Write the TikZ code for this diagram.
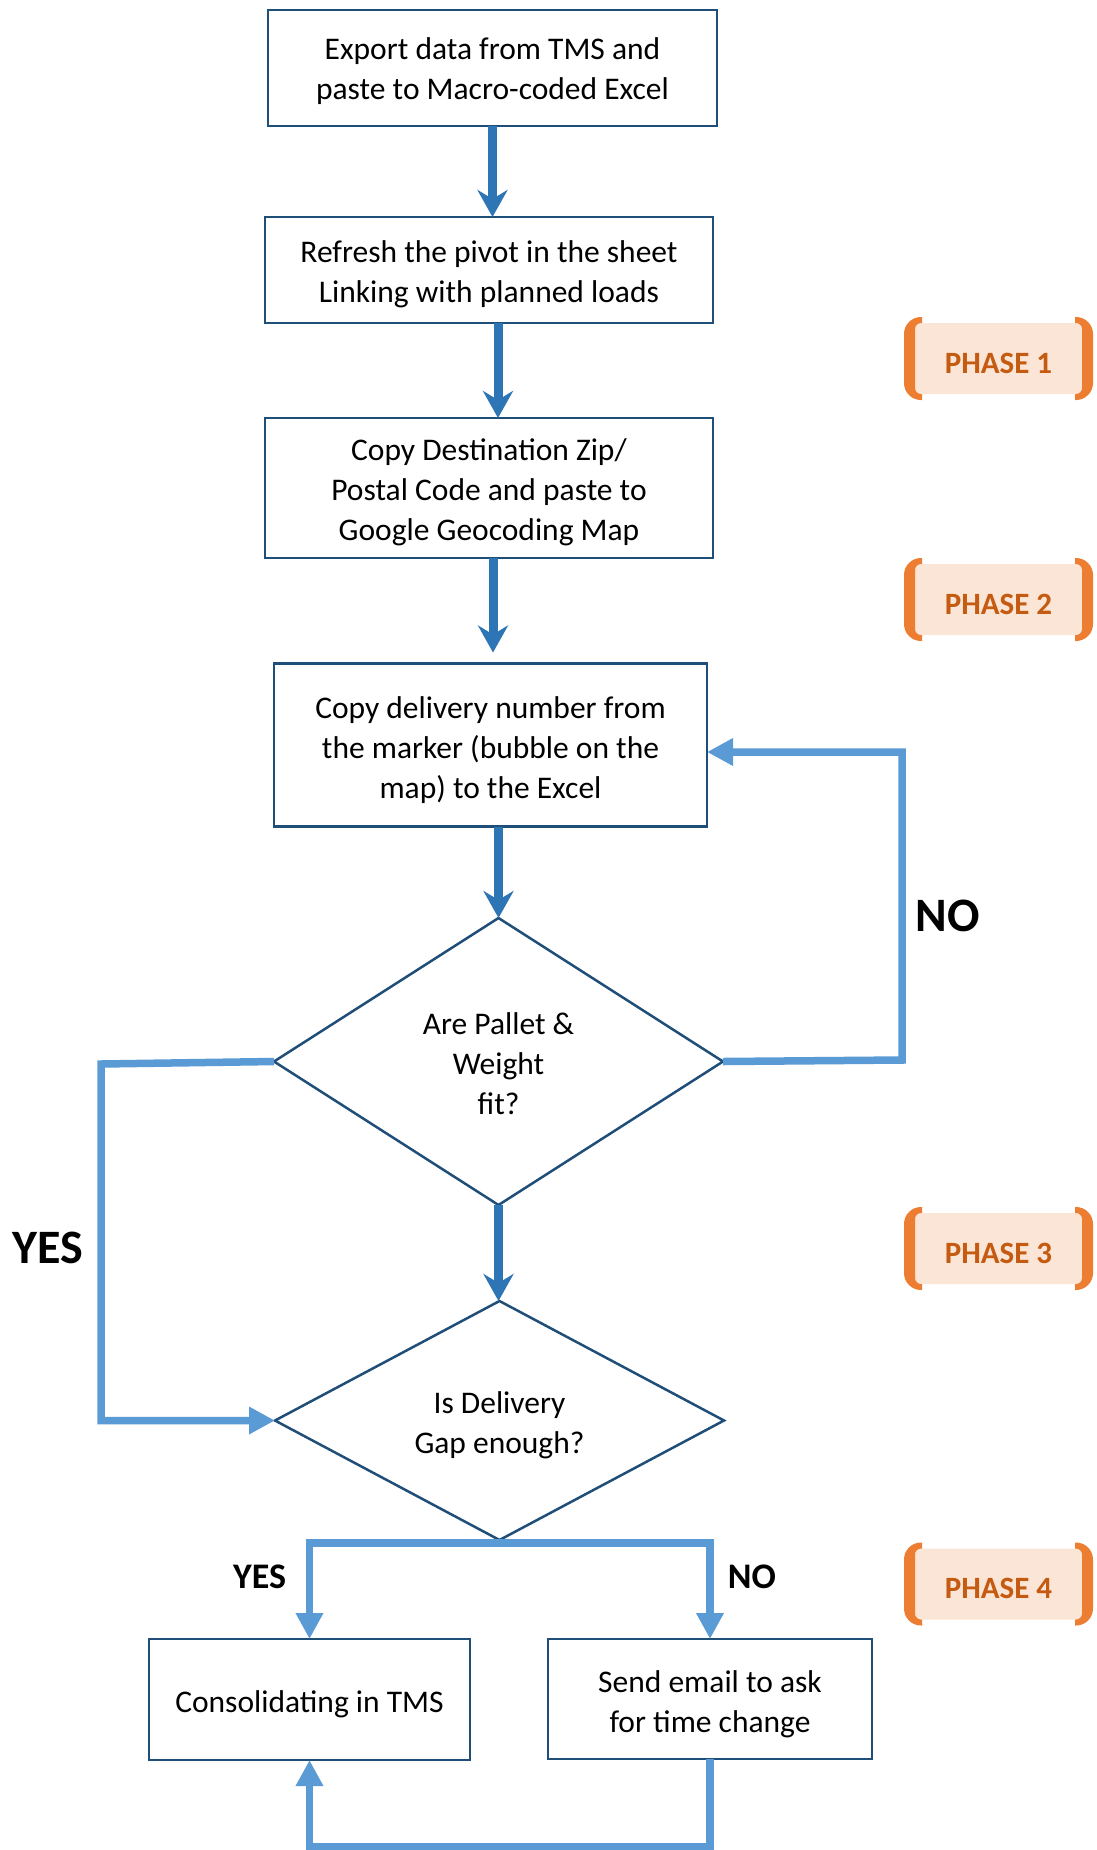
\documentclass[tikz,border=0pt]{standalone}
\usepackage{fontspec}
\setmainfont{Carlito}
\usetikzlibrary{arrows.meta,shapes.geometric,calc}

\definecolor{boxline}{HTML}{1F4E79}
\definecolor{darkflow}{HTML}{2E75B6}
\definecolor{lightflow}{HTML}{5B9BD5}
\definecolor{phasefill}{HTML}{FBE5D6}
\definecolor{phasebrk}{HTML}{ED7D31}
\definecolor{phasetext}{HTML}{C55A11}

% zero-width strut on a first line: lowers the whole text block a little
\newcommand{\firststrut}[1]{\rule{0pt}{#1}}

\tikzset{
  stepbox/.style={draw=boxline, line width=2.8pt, fill=white, align=center,
    inner sep=0pt, outer sep=0pt, font=\fontsize{31.5}{40}\selectfont},
  decision/.style={diamond, draw=boxline, line width=2.5pt, fill=white, align=center,
    inner sep=0pt, outer sep=0pt, font=\fontsize{31.5}{40}\selectfont},
  darkarrow/.style={draw=darkflow, line width=9pt,
    -{Stealth[length=27pt,width=30pt,inset=9pt]}},
  lightarrow/.style={draw=lightflow, line width=7.5pt, line join=miter,
    -{Triangle[length=26pt,width=26pt]}},
  biglabel/.style={font=\bfseries\fontsize{48}{48}\selectfont, anchor=base, inner sep=0pt},
  smalllabel/.style={font=\bfseries\fontsize{36}{36}\selectfont, anchor=base, inner sep=0pt},
  phasebox/.style={fill=phasefill, rounded corners=6pt, minimum width=167pt,
    minimum height=71pt, inner sep=0pt, outer sep=0pt},
  phaselabel/.style={text=phasetext, font=\bfseries\fontsize{31}{31}\selectfont, inner sep=0pt},
}

% bracketed phase tag: name, vertical centre, caption
\newcommand{\phasebadge}[3]{%
  \node[phasebox] (#1) at (998.5,#2) {};
  \begin{scope}
    \clip ([xshift=-14pt,yshift=-9pt]#1.south west) rectangle ([xshift=7pt,yshift=9pt]#1.north west)
          ([xshift=-7pt,yshift=-9pt]#1.south east) rectangle ([xshift=14pt,yshift=9pt]#1.north east);
    \fill[phasebrk, even odd rule]
      [rounded corners=17pt] ([xshift=-11pt,yshift=-6pt]#1.south west) rectangle ([xshift=11pt,yshift=6pt]#1.north east)
      [rounded corners=6pt] (#1.south west) rectangle (#1.north east);
  \end{scope}
  \node[phaselabel] (#1t) at ([yshift=-4.5pt]#1.center) {#3};
}

\begin{document}
\begin{tikzpicture}[x=1pt, y=-1pt]
  \useasboundingbox (0,0) rectangle (1096,1850);
  \fill[white] (0,0) rectangle (1096,1850);

  % process steps
  \node[stepbox, minimum width=449pt, minimum height=116pt] (b1) at (492.5,68)
    {\firststrut{28pt}Export data from TMS and\\paste to Macro-coded Excel};
  \node[stepbox, minimum width=448pt, minimum height=106pt] (b2) at (489,270)
    {\firststrut{30pt}Refresh the pivot in the sheet\\Linking with planned loads};
  \node[stepbox, minimum width=448pt, minimum height=140pt] (b3) at (489,488)
    {\firststrut{30pt}Copy Destination Zip/\\Postal Code and paste to\\Google Geocoding Map};
  \node[stepbox, minimum width=433pt, minimum height=163pt] (b4) at (490.5,745)
    {\firststrut{32pt}Copy delivery number from\\the marker (bubble on the\\map) to the Excel};

  % decisions
  \node[decision, shape aspect=1.56, minimum width=449pt, minimum height=287pt] (d1) at (498.5,1061.5)
    {\firststrut{26pt}Are Pallet \&\\Weight\\fit?};
  \node[decision, shape aspect=1.88, minimum width=449pt, minimum height=239pt] (d2) at (499.5,1420.5)
    {\firststrut{31pt}Is Delivery\\Gap enough?};

  % outcomes
  \node[stepbox, minimum width=321pt, minimum height=121pt] (c) at (309.5,1699.5)
    {\firststrut{32pt}Consolidating in TMS};
  \node[stepbox, minimum width=324pt, minimum height=120pt] (s) at (710,1699)
    {\firststrut{32pt}Send email to ask\\for time change};

  % main flow
  \draw[darkarrow] (b1.south) -- (b1.south |- b2.north);
  \draw[darkarrow] ($(b2.south)+(9,0)$) -- ($(b2.south |- b3.north)+(9,0)$);
  \draw[darkarrow] ($(b3.south)+(4,0)$) -- ($(b3.south |- b4.north)+(4,-11)$);
  \draw[darkarrow] (b4.south -| d1.north) -- (d1.north);
  \draw[darkarrow] (d1.south) -- (d1.south |- d2.north);

  % NO loop back to the delivery step
  \coordinate (noturn) at (902,1060);
  \coordinate (notop) at (902,752);
  \draw[lightarrow] (d1.east) -- (noturn) -- (notop) -- (notop -| b4.east);

  % YES branch to the gap check
  \coordinate (yesturn) at (101,1064);
  \coordinate (yesfoot) at (101,1420.5);
  \draw[lightarrow] (d1.west) -- (yesturn) -- (yesfoot) -- (d2.west);

  % gap check split
  \draw[lightarrow] ([yshift=-3pt]d2.south) -| (c.north);
  \draw[lightarrow] ([yshift=-3pt]d2.south) -| (s.north);

  % email result feeds consolidation
  \coordinate (loopfoot) at (500,1847);
  \draw[lightarrow] (s.south) |- (loopfoot) -| (c.south);

  % branch labels
  \node[biglabel] (noA) at (948,931) {NO};
  \node[biglabel] (yesA) at (47.5,1263) {YES};
  \node[smalllabel] (yesB) at (259.5,1588) {YES};
  \node[smalllabel] (noB) at (752,1588) {NO};

  % phase tags
  \phasebadge{p1}{358.5}{PHASE 1}
  \phasebadge{p2}{599.5}{PHASE 2}
  \phasebadge{p3}{1248.5}{PHASE 3}
  \phasebadge{p4}{1584}{PHASE 4}
\end{tikzpicture}
\end{document}
